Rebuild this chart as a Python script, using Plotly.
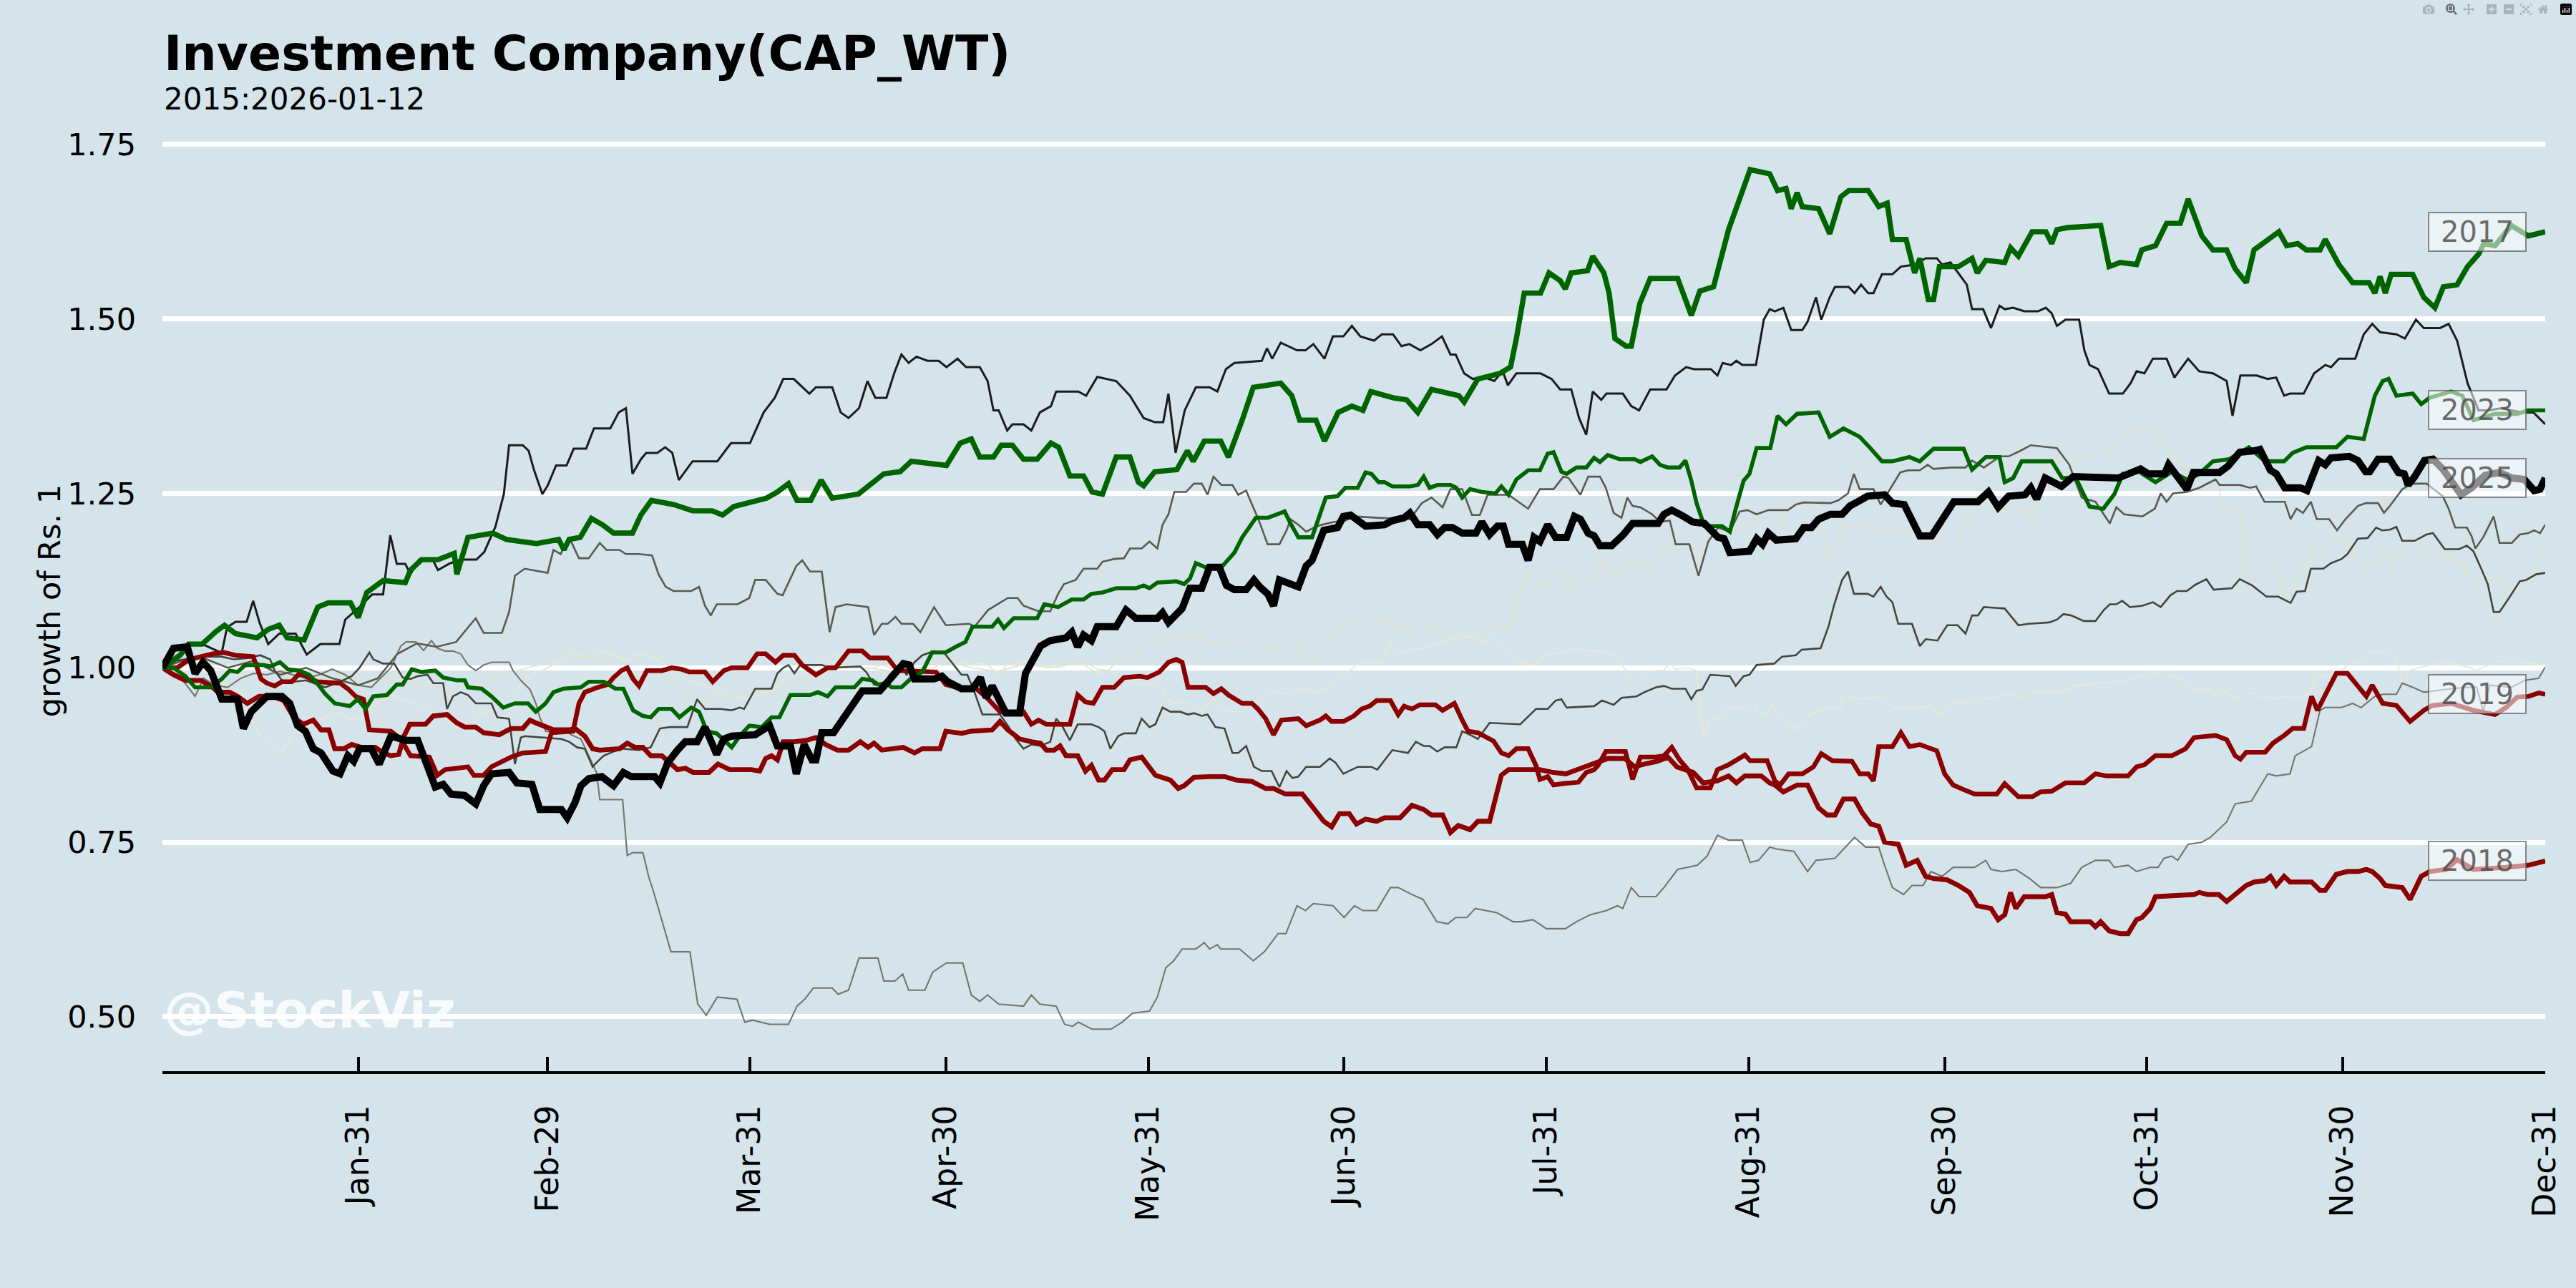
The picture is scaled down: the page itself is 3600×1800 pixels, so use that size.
import plotly.graph_objects as go
import pandas as pd

# ---------------- data: (day-of-year offset from Jan-01, growth of Rs. 1) ----------------
Y2015 = [(0,1.0),(2,0.99),(4,0.975),(6,0.97),(8,0.98),(10,0.975),(12,0.965),(13.3,0.93),(14.8,0.905),(16.5,0.89),(18,0.875),(19,0.89),(20.1,0.905),(21.5,0.91),(23,0.92),(25,0.93),(27,0.935),(29,0.925),(31,0.93),(33,0.95),(35,0.96),(37,0.955),(39,0.945),(41,0.94),(43,0.93),(45,0.915),(47,0.925),(49,0.935),(51,0.94),(53,0.96),(55,0.975),(57,0.99),(59,1.0),(61,1.01),(63,1.02),(65,1.015),(67,1.025),(69,1.02),(71,1.01),(73,1.02),(75,1.015),(77,1.005),(79,0.99),(81,0.98),(83,0.975),(85,0.965),(87,0.96),(89,0.955),(91,0.96),(93.9,0.970),(96.2,0.987),(98,0.991),(100.4,1.004),(102.2,1.016),(103.1,1.020),(104.3,1.004),(105.1,1.0),(108.1,0.998),(110.2,1.004),(111.4,1.0),(112.6,0.992),(115.2,0.992),(116.4,1.0),(118.2,1.0),(120,1.012),(121.5,1.014),(123.6,1.004),(124.7,1.006),(126.2,1.006),(128.3,0.988),(129.2,1.004),(130.7,1.006),(131.9,1.010),(134.2,1.004),(137.8,1.0),(139,1.008),(140.8,1.006),(142.6,0.996),(144.3,0.992),(145.2,0.996),(146.7,0.986),(148.8,0.980),(150.3,0.974),(151.8,0.980),(153.2,0.972),(154.1,0.953),(155.3,0.949),(157.1,0.949),(159.2,0.939),(161,0.957),(162.2,0.941),(163.3,0.937),(165.4,0.937),(166.9,0.949),(168.1,0.953),(169.9,0.965),(171.7,0.963),(173.5,0.969),(175.2,0.971),(176.4,0.965),(177.9,0.969),(179.4,0.976),(181.2,0.990),(183.1,1.006),(184.9,1.008),(186.6,1.006),(187.2,1.016),(188.1,1.037),(189.3,1.022),(191.4,1.026),(193.2,1.028),(194.9,1.033),(196.7,1.039),(198.5,1.043),(200.9,1.045),(201.8,1.035),(203.3,1.043),(205.1,1.028),(206.8,1.020),(208.6,1.006),(209.8,1.004),(212.2,1.018),(215.1,1.024),(216.9,1.028),(218.1,1.024),(220.8,1.024),(222.3,1.018),(223.5,1.006),(225.2,0.980),(227,0.990),(228.8,0.996),(230,0.996),(230.9,1.008),(231.8,0.998),(233.6,1.0),(235,0.996),(235.6,0.929),(236.2,0.902),(237.1,0.929),(238.3,0.925),(239.8,0.943),(241.3,0.943),(242.5,0.943),(243.7,0.951),(244.5,0.935),(245.7,0.933),(246.6,0.947),(248.4,0.929),(250.2,0.911),(251.4,0.923),(252.6,0.935),(254.6,0.941),(257.1,0.943),(257.3,0.961),(258.5,0.957),(260.9,0.955),(263.2,0.961),(265,0.943),(266.8,0.943),(269.2,0.943),(271,0.945),(272.2,0.933),(274,0.949),(277.8,0.953),(279,0.957),(280.3,0.955),(282.2,0.961),(284,0.961),(285.2,0.957),(287,0.965),(290.9,0.965),(292.7,0.974),(296.2,0.978),(300.2,0.980),(302,0.986),(304.5,0.990),(306.1,0.996),(307.6,0.990),(309.5,0.982),(310.8,0.970),(313.2,0.970),(314.5,0.961),(315.7,0.967),(317,0.959),(318.5,0.957),(320.1,0.965),(321.3,0.959),(323.2,0.955),(325.1,0.959),(327.2,0.957),(328.8,0.963),(330,0.987),(331.9,0.991),(333.8,0.996),(335,1.006),(336.3,1.008),(338.1,1.022),(341.2,1.022),(342.2,1.012),(343.1,0.978),(344.3,0.996),(345.6,1.0),(347.5,1.004),(349.3,1.008),(351.8,1.004),(353.7,1.0),(354.3,0.996),(358,1.010),(361.1,1.010),(363,1.006),(365,1.004)]

Y2016 = [(0,1.0),(4,1.01),(8,1.0),(12,0.99),(16,1.0),(20,0.995),(24,0.985),(28,0.99),(32,0.98),(36,0.985),(40,0.975),(44,0.97),(48,0.975),(52,0.99),(56,1.0),(60,1.01),(61.7,1.033),(62.9,1.016),(67,1.016),(68.8,1.008),(70,1.012),(71.2,0.996),(73,0.988),(75.4,0.990),(77.7,0.98),(80,0.965),(82.2,0.953),(84.9,0.959),(88.4,0.965),(92.4,0.961),(95,0.975),(98,0.98),(101,0.99),(104,1.0),(108,1.0),(112,0.995),(116,1.0),(120,1.01),(124,1.0),(128,0.995),(132,1.005),(136,1.0),(139.3,1.006),(141.4,1.008),(143.2,0.998),(144.9,0.996),(146.1,1.008),(147.3,1.014),(148.8,1.016),(149.7,1.031),(150.9,1.039),(153,1.040),(156,1.043),(158.6,1.045),(159.8,1.039),(163.3,1.035),(165.7,1.033),(166.6,1.028),(168.1,1.031),(170.2,1.030),(171.4,1.033),(172.8,1.028),(174,1.035),(175,1.013),(177,1.013),(178.8,1.039),(180,1.053),(181.8,1.067),(183.5,1.071),(185,1.075),(186.1,1.067),(188,1.065),(189,1.059),(191.1,1.059),(192,1.071),(193.2,1.067),(194.1,1.055),(195.3,1.055),(196.4,1.049),(199.1,1.047),(201,1.047),(201.8,1.051),(202.4,1.047),(203.3,1.061),(206.5,1.061),(207.4,1.078),(208.3,1.122),(209.2,1.136),(210.4,1.120),(212.2,1.120),(213.4,1.138),(214.6,1.134),(215.7,1.114),(216.9,1.126),(219.3,1.128),(220.5,1.154),(222.3,1.132),(223.5,1.142),(225.2,1.148),(228.2,1.144),(229.4,1.161),(231.2,1.175),(232.4,1.177),(234.2,1.177),(235.3,1.150),(236.5,1.185),(238.3,1.193),(240.1,1.191),(241.9,1.205),(244.2,1.207),(246,1.209),(247.8,1.209),(249,1.231),(250.2,1.235),(252,1.233),(253.2,1.225),(254.4,1.207),(255,1.156),(256.1,1.158),(257.6,1.201),(258.5,1.203),(260.9,1.205),(262.1,1.197),(264.4,1.199),(266.2,1.195),(268.6,1.201),(270.4,1.179),(271.6,1.183),(272.2,1.185),(275,1.19),(277.2,1.218),(278.1,1.238),(279,1.234),(281.5,1.224),(285.9,1.224),(286.5,1.214),(286.8,1.260),(288.4,1.286),(290.9,1.299),(297.1,1.303),(298.9,1.313),(300.5,1.323),(301.4,1.339),(305.2,1.339),(306.1,1.319),(308.3,1.295),(310.8,1.287),(314.5,1.280),(315.7,1.229),(317,1.225),(318.5,1.221),(318.8,1.130),(320.1,1.126),(322,1.140),(323.8,1.140),(325.4,1.100),(326.6,1.124),(327.9,1.138),(329.1,1.165),(330.7,1.169),(332.2,1.181),(334.1,1.189),(335.6,1.167),(337.5,1.148),(339.4,1.152),(340.6,1.165),(341.2,1.141),(342.5,1.169),(344.3,1.185),(345.6,1.179),(346.8,1.161),(350,1.157),(352.4,1.151),(354.3,1.122),(356.2,1.128),(357.4,1.128),(359.3,1.110),(360.8,1.110),(363,1.134),(364,1.159),(365,1.161)]

Y2017 = [(0,1.000),(2.8,1.019),(4.0,1.034),(6.1,1.034),(8.2,1.052),(9.5,1.061),(11.2,1.049),(14.5,1.043),(16.2,1.055),(17.9,1.061),(19.1,1.043),(21.7,1.040),(23.8,1.087),(25.4,1.093),(28.8,1.093),(30.0,1.072),(31.3,1.108),(33.8,1.125),(37.2,1.122),(38.0,1.140),(39.7,1.155),(42.2,1.155),(44.7,1.164),(45.1,1.134),(46.8,1.187),(50.6,1.193),(52.7,1.184),(57.3,1.178),(60.7,1.184),(61.5,1.169),(62.3,1.184),(64.0,1.187),(65.7,1.214),(67.4,1.205),(69.1,1.193),(72.0,1.193),(73.3,1.219),(74.9,1.240),(78.3,1.234),(81.2,1.225),(84.2,1.225),(85.8,1.219),(87.5,1.231),(92.5,1.243),(94.2,1.252),(95.9,1.264),(97.2,1.240),(99.3,1.240),(100.9,1.269),(102.6,1.243),(106.6,1.249),(110.5,1.278),(113.0,1.281),(114.7,1.296),(120.1,1.290),(122.2,1.322),(123.9,1.328),(125.2,1.302),(127.3,1.302),(128.5,1.319),(130.2,1.319),(131.9,1.299),(134.0,1.299),(136.1,1.322),(137.3,1.316),(139.0,1.275),(141.1,1.275),(142.4,1.252),(144.0,1.249),(146.1,1.302),(148.2,1.302),(149.5,1.266),(150.3,1.261),(152.0,1.281),(155.4,1.284),(157.0,1.311),(157.9,1.296),(159.6,1.325),(162.1,1.325),(163.3,1.302),(165.4,1.355),(167.1,1.402),(171.3,1.408),(173.0,1.390),(174.2,1.355),(176.7,1.355),(178.0,1.325),(180.1,1.366),(182.2,1.375),(183.9,1.369),(185.1,1.396),(188.5,1.387),(190.6,1.384),(192.3,1.366),(194.4,1.399),(198.6,1.390),(199.4,1.381),(201.5,1.414),(204.9,1.422),(206.5,1.431),(207.4,1.472),(208.6,1.537),(211.1,1.537),(212.4,1.566),(214.1,1.555),(214.9,1.543),(215.8,1.566),(218.3,1.569),(219.1,1.590),(220.8,1.566),(221.6,1.537),(222.5,1.472),(224.2,1.461),(225.0,1.461),(226.3,1.522),(227.9,1.558),(232.1,1.558),(234.2,1.505),(235.5,1.540),(237.6,1.546),(239.9,1.628),(242.0,1.684),(243.2,1.714),(246.2,1.708),(247.4,1.684),(248.7,1.687),(249.5,1.658),(250.4,1.681),(251.2,1.661),(253.7,1.658),(255.4,1.622),(257.1,1.675),(258.3,1.684),(261.3,1.684),(262.9,1.661),(264.2,1.666),(265.0,1.614),(267.1,1.614),(268.4,1.566),(269.2,1.587),(270.5,1.528),(271.3,1.528),(272.2,1.575),(275.1,1.575),(277.2,1.587),(278.0,1.566),(279.3,1.584),(282.2,1.581),(283.1,1.602),(284.3,1.590),(286.4,1.625),(288.5,1.625),(289.4,1.608),(290.2,1.628),(291.9,1.631),(296.9,1.634),(298.2,1.575),(299.9,1.581),(302.4,1.578),(303.2,1.599),(305.3,1.605),(307.0,1.637),(309.1,1.637),(310.3,1.672),(312.4,1.619),(314.1,1.599),(316.2,1.599),(317.5,1.572),(319.2,1.552),(320.4,1.599),(322.1,1.611),(324.2,1.625),(325.4,1.605),(327.1,1.608),(328.4,1.599),(330.5,1.599),(331.3,1.614),(333.4,1.578),(335.5,1.552),(338.0,1.552),(338.9,1.537),(339.7,1.561),(340.5,1.537),(341.4,1.564),(344.7,1.564),(346.4,1.531),(348.1,1.516),(349.4,1.546),(351.5,1.549),(353.1,1.575),(354.8,1.593),(355.6,1.608),(357.3,1.605),(359.8,1.634),(362.4,1.619),(365,1.625)]

Y2018 = [(0,1.0),(1.7,0.990),(3.5,0.982),(5.9,0.982),(7.7,0.972),(8.5,0.965),(10.3,0.965),(11.5,0.959),(13.0,0.949),(14.8,0.959),(16.9,0.959),(18.6,0.953),(20.1,0.929),(21.6,0.919),(23.1,0.925),(24.3,0.911),(25.5,0.911),(26.4,0.884),(27.8,0.884),(29.0,0.890),(30.5,0.886),(32.6,0.886),(33.8,0.878),(35.0,0.874),(36.2,0.876),(37.0,0.902),(37.9,0.919),(40.3,0.919),(41.5,0.931),(43.6,0.933),(45.1,0.921),(46.3,0.915),(48.0,0.915),(49.2,0.907),(51.6,0.904),(53.4,0.913),(55.2,0.913),(56.3,0.925),(57.2,0.921),(58.7,0.915),(59.9,0.911),(62.3,0.911),(63.2,0.913),(64.7,0.902),(65.9,0.884),(67.0,0.882),(70.0,0.884),(71.2,0.892),(72.4,0.886),(73.6,0.886),(74.8,0.874),(76.5,0.874),(78.0,0.860),(78.9,0.854),(80.1,0.856),(81.3,0.850),(83.7,0.850),(85.1,0.862),(86.9,0.854),(90.2,0.854),(91.5,0.852),(92.4,0.870),(93.3,0.874),(94.2,0.868),(95.1,0.894),(96.8,0.894),(98.6,0.896),(100.1,0.900),(101.6,0.890),(103.4,0.882),(105.1,0.882),(106.9,0.894),(108.1,0.886),(109.0,0.892),(110.2,0.882),(112.6,0.884),(113.5,0.886),(115.2,0.878),(116.4,0.884),(119.1,0.884),(120.0,0.909),(122.4,0.906),(123.9,0.909),(127.1,0.911),(128.3,0.923),(129.5,0.911),(131.3,0.898),(133.1,0.894),(134.5,0.892),(135.4,0.882),(136.6,0.882),(137.5,0.888),(138.4,0.874),(140.2,0.874),(141.4,0.852),(142.3,0.860),(143.4,0.839),(144.3,0.839),(145.5,0.854),(147.3,0.854),(148.2,0.868),(150.0,0.872),(151.2,0.858),(152.1,0.846),(154.4,0.839),(155.6,0.827),(156.5,0.831),(158.0,0.843),(160.4,0.844),(162.7,0.844),(164.5,0.839),(166.9,0.837),(169.0,0.827),(170.2,0.827),(172.0,0.819),(174.6,0.819),(175.8,0.805),(177.9,0.780),(179.1,0.772),(180.3,0.791),(181.8,0.791),(182.9,0.776),(184.3,0.783),(186.0,0.780),(187.2,0.785),(189.6,0.785),(191.4,0.803),(193.2,0.797),(194.4,0.789),(196.1,0.789),(197.3,0.764),(198.5,0.774),(200.3,0.768),(201.5,0.780),(203.3,0.780),(204.2,0.815),(205.1,0.846),(206.2,0.854),(211.0,0.854),(213.0,0.850),(215.0,0.848),(217.0,0.855),(219.0,0.862),(221.4,0.870),(224.0,0.870),(225.5,0.858),(227.0,0.862),(229.0,0.866),(230.6,0.872),(232.0,0.858),(234.5,0.850),(236.0,0.835),(238.2,0.838),(239.9,0.845),(241.1,0.835),(242.4,0.845),(244.9,0.845),(246.2,0.835),(247.0,0.832),(248.3,0.822),(250.4,0.832),(252.0,0.832),(253.7,0.799),(255.0,0.789),(256.2,0.789),(257.5,0.812),(259.2,0.812),(260.4,0.792),(261.7,0.776),(262.9,0.773),(263.8,0.750),(265.9,0.747),(267.1,0.717),(268.8,0.724),(270.1,0.701),(271.3,0.698),(273.4,0.696),(275.1,0.688),(276.8,0.678),(278.0,0.659),(280.1,0.655),(281.2,0.639),(282.2,0.646),(283.1,0.678),(283.9,0.655),(285.2,0.672),(288.5,0.672),(289.4,0.675),(290.2,0.649),(291.5,0.647),(292.3,0.636),(295.3,0.636),(296.1,0.629),(296.9,0.636),(298.2,0.623),(299.9,0.619),(301.1,0.619),(302.4,0.639),(303.2,0.642),(304.5,0.655),(305.3,0.672),(307.8,0.673),(311.2,0.675),(312.0,0.678),(313.3,0.675),(315.0,0.675),(316.2,0.665),(319.2,0.688),(320.4,0.693),(322.1,0.695),(322.9,0.701),(323.8,0.688),(325.0,0.701),(325.9,0.693),(329.2,0.693),(330.5,0.681),(331.3,0.681),(333.0,0.704),(334.7,0.708),(336.4,0.708),(337.6,0.711),(338.5,0.708),(339.7,0.698),(340.5,0.688),(343.1,0.685),(344.3,0.668),(346.0,0.701),(347.3,0.708),(349.8,0.711),(351.5,0.725),(354.0,0.711),(359.0,0.714),(362.4,0.717),(365,0.723)]

Y2019 = [(0,1.0),(2.3,1.0),(4.1,1.012),(5.9,1.016),(7.7,1.020),(9.4,1.022),(11.2,1.018),(13.9,1.016),(15.1,0.984),(16.0,0.978),(17.2,0.974),(18.3,0.980),(19.8,0.980),(21.0,0.992),(22.5,0.986),(23.7,0.980),(27.2,0.978),(28.4,0.970),(29.6,0.959),(30.8,0.955),(31.7,0.911),(35.0,0.909),(36.5,0.898),(38.0,0.874),(40.9,0.872),(42.1,0.846),(43.3,0.854),(46.8,0.858),(47.7,0.846),(49.2,0.846),(50.4,0.858),(51.6,0.864),(53.4,0.872),(55.2,0.878),(57.5,0.880),(58.7,0.880),(59.6,0.907),(62.9,0.909),(63.8,0.949),(64.7,0.965),(66.7,0.972),(68.2,0.976),(69.1,0.986),(70.3,0.996),(71.2,1.0),(72.1,0.984),(73.0,0.974),(74.2,0.996),(76.5,0.996),(78.0,1.0),(79.5,0.998),(80.7,0.994),(83.1,0.994),(84.3,0.980),(86.0,0.996),(87.2,1.0),(89.6,1.0),(91.1,1.020),(92.4,1.020),(93.9,1.008),(95.1,1.018),(96.8,1.018),(98.0,1.004),(100.1,0.990),(101.9,1.0),(103.1,1.0),(105.1,1.024),(107.2,1.024),(108.4,1.014),(111.1,1.014),(112.6,0.996),(118.5,0.994),(120.0,0.976),(122.4,0.970),(124.7,0.970),(126.5,0.955),(128.3,0.937),(129.8,0.935),(131.9,0.937),(133.1,0.919),(134.2,0.925),(135.4,0.919),(139.0,0.919),(140.2,0.961),(141.4,0.951),(142.6,0.949),(144.0,0.972),(145.8,0.972),(147.3,0.986),(149.7,0.988),(150.9,0.986),(152.7,0.994),(154.1,1.008),(155.3,1.012),(156.2,1.008),(157.1,0.972),(159.8,0.972),(161.0,0.963),(162.2,0.970),(163.3,0.961),(165.4,0.949),(166.9,0.949),(167.8,0.941),(169.0,0.927),(170.2,0.904),(171.4,0.925),(174.0,0.927),(175.2,0.917),(177.3,0.925),(178.2,0.931),(179.1,0.923),(180.9,0.923),(182.5,0.931),(183.7,0.941),(184.9,0.945),(186.0,0.953),(188.1,0.953),(189.3,0.933),(190.2,0.945),(191.4,0.941),(192.6,0.947),(195.0,0.947),(196.1,0.939),(197.9,0.949),(199.1,0.925),(200.0,0.909),(201.5,0.907),(202.7,0.901),(203.9,0.895),(205.1,0.878),(206.2,0.874),(207.4,0.884),(209.2,0.884),(210.4,0.860),(211.0,0.840),(212.2,0.844),(213.1,0.832),(214.6,0.834),(216.9,0.836),(218.1,0.850),(219.3,0.854),(219.9,0.860),(221.1,0.880),(224.1,0.880),(225.2,0.840),(226.4,0.872),(228.8,0.872),(230.0,0.874),(231.2,0.886),(232.4,0.868),(233.6,0.855),(235.0,0.828),(237.1,0.828),(238.2,0.854),(239.9,0.861),(242.4,0.875),(243.2,0.867),(245.8,0.867),(247.0,0.838),(247.8,0.832),(249.1,0.848),(251.2,0.848),(252.9,0.858),(254.1,0.877),(255.8,0.867),(258.8,0.866),(260.0,0.848),(261.3,0.848),(262.1,0.838),(262.9,0.887),(265.0,0.887),(266.3,0.907),(267.6,0.887),(269.2,0.890),(271.8,0.881),(273.0,0.848),(274.3,0.832),(276.0,0.825),(277.6,0.819),(281.0,0.819),(282.2,0.834),(284.3,0.815),(286.4,0.815),(287.7,0.822),(289.4,0.823),(291.5,0.835),(294.4,0.835),(296.1,0.848),(297.8,0.845),(301.1,0.845),(302.4,0.858),(303.6,0.861),(305.3,0.874),(307.8,0.874),(309.9,0.884),(311.2,0.900),(314.5,0.903),(316.2,0.897),(317.5,0.874),(318.3,0.869),(319.2,0.879),(322.1,0.879),(323.3,0.892),(325.0,0.903),(326.3,0.913),(328.0,0.913),(329.2,0.959),(330.1,0.939),(333.0,0.992),(334.7,0.992),(337.6,0.959),(338.5,0.975),(340.1,0.949),(342.2,0.946),(344.3,0.923),(346.4,0.939),(347.7,0.946),(350.6,0.949),(354.0,0.939),(357.3,0.933),(359.0,0.943),(360.7,0.958),(362.4,0.959),(364.0,0.964),(365,0.962)]

Y2020 = [(0,1.0),(2.5,0.99),(5,0.959),(6.3,0.985),(8,0.975),(10,0.972),(12,0.985),(14,0.992),(16,0.99),(18,0.995),(20,0.99),(22,0.985),(24,0.99),(26,0.998),(28,0.99),(30,0.975),(32,0.972),(34,0.99),(35,1.0),(36.5,1.031),(37.3,1.037),(38.8,1.037),(40,1.025),(41.2,1.039),(42.1,1.028),(43.3,1.024),(44.5,1.024),(45.7,1.020),(46.8,1.004),(48,0.996),(49.2,1.004),(50.4,1.008),(53.1,1.008),(53.7,0.996),(54.9,0.982),(56.3,0.969),(57.2,0.949),(57.8,0.929),(58.7,0.909),(60.5,0.907),(61.7,0.911),(62.6,0.904),(64.1,0.898),(65.3,0.874),(66.5,0.85),(67.0,0.811),(70.5,0.811),(71.2,0.731),(72,0.735),(73.6,0.735),(74.5,0.70),(75.2,0.68),(77.9,0.593),(80.8,0.593),(82,0.518),(83.3,0.502),(85,0.528),(88,0.525),(89.2,0.492),(90.4,0.495),(93,0.489),(95.9,0.489),(97.2,0.515),(98.4,0.525),(99.7,0.541),(102.6,0.541),(103.5,0.532),(105.1,0.538),(106.7,0.584),(109.6,0.584),(110.5,0.551),(112.2,0.551),(113.4,0.561),(114.3,0.538),(116.8,0.538),(118.0,0.564),(120.1,0.577),(122.6,0.577),(123.9,0.531),(125.2,0.522),(126.4,0.531),(128.1,0.518),(131.9,0.515),(133.1,0.531),(134.4,0.518),(136.9,0.515),(138.2,0.489),(139.4,0.486),(140.3,0.492),(142.4,0.482),(145.3,0.482),(147.0,0.492),(148.6,0.505),(151.2,0.508),(152.4,0.528),(153.7,0.570),(154.9,0.580),(156.2,0.597),(158.3,0.597),(159.6,0.606),(160.4,0.597),(161.6,0.603),(162.1,0.597),(165.0,0.597),(167.1,0.580),(168.8,0.593),(170.9,0.619),(172.1,0.619),(173.8,0.659),(175.1,0.652),(176.3,0.662),(179.3,0.659),(181.0,0.642),(182.6,0.659),(183.9,0.652),(186.0,0.652),(188.1,0.685),(189.3,0.685),(191.4,0.675),(193.1,0.668),(195.2,0.636),(196.9,0.633),(198.1,0.642),(199.8,0.642),(201.1,0.655),(204.4,0.649),(206.9,0.636),(208.2,0.636),(209.9,0.639),(212.0,0.626),(214.9,0.626),(216.6,0.636),(218.7,0.646),(221.2,0.652),(222.9,0.659),(223.7,0.655),(225.0,0.685),(226.2,0.672),(228.8,0.672),(230.0,0.685),(232.1,0.711),(235.1,0.717),(236.6,0.730),(238.2,0.760),(239.9,0.753),(242.0,0.753),(243.2,0.721),(244.5,0.724),(246.2,0.743),(247.4,0.740),(249.9,0.737),(252.0,0.708),(253.3,0.724),(256.2,0.727),(259.2,0.757),(260.9,0.743),(262.9,0.743),(263.8,0.717),(265.0,0.685),(266.7,0.675),(268.0,0.688),(269.7,0.688),(270.9,0.708),(272.6,0.701),(274.3,0.714),(277.6,0.714),(279.3,0.724),(280.1,0.711),(281.8,0.708),(283.9,0.711),(286.0,0.698),(287.7,0.685),(290.2,0.685),(292.3,0.691),(294.0,0.714),(296.1,0.724),(298.2,0.724),(299.0,0.714),(301.1,0.717),(302.4,0.708),(304.5,0.714),(305.7,0.714),(306.6,0.727),(307.8,0.730),(308.7,0.724),(310.3,0.747),(312.4,0.750),(313.7,0.757),(316.2,0.779),(317.5,0.805),(320.0,0.809),(322.5,0.848),(323.8,0.845),(325.9,0.848),(326.7,0.874),(329.2,0.887),(330.5,0.939),(331.3,0.943),(333.8,0.943),(335.5,0.949),(336.8,0.943),(338.9,0.959),(340.1,0.962),(342.2,0.962),(343.1,0.978),(344.7,0.972),(346.4,0.965),(349.8,0.969),(352.7,0.972),(354.5,0.972),(355.5,0.938),(356.5,0.975),(359.8,0.972),(361.9,0.982),(364.0,0.985),(365,1.001)]

Y2021 = [(0,1.0),(3,1.01),(6,1.015),(10,1.0),(14,1.01),(18,0.99),(22,1.0),(26,0.985),(30,0.975),(33,0.985),(36,1.02),(39,1.035),(42,1.03),(45,1.037),(47,1.06),(48,1.071),(49.2,1.05),(52,1.05),(53.1,1.08),(54,1.132),(55.5,1.142),(59,1.136),(59.9,1.169),(61,1.163),(62.3,1.187),(63.8,1.157),(65.3,1.157),(67,1.179),(68,1.169),(70,1.169),(71,1.163),(73,1.163),(75,1.161),(76,1.134),(77.1,1.116),(78.3,1.11),(81,1.11),(82.2,1.116),(83.1,1.089),(84,1.075),(84.9,1.091),(88.1,1.091),(89.9,1.1),(90.8,1.126),(92.4,1.126),(94.2,1.106),(95.0,1.104),(97.1,1.146),(98,1.154),(99.2,1.138),(101,1.138),(102.2,1.051),(103.1,1.087),(104.8,1.091),(108.1,1.087),(109,1.047),(110.2,1.063),(111.1,1.063),(112.3,1.073),(113.2,1.063),(115,1.063),(116.1,1.051),(118.2,1.087),(120,1.061),(123.6,1.063),(124.4,1.059),(126.5,1.083),(129.5,1.10),(131,1.10),(131.9,1.089),(134.2,1.081),(136,1.081),(137.2,1.106),(138.1,1.120),(139.9,1.126),(141.1,1.142),(143.2,1.142),(144,1.152),(145.8,1.156),(147.3,1.157),(148.2,1.171),(150,1.171),(151.2,1.181),(152.4,1.171),(153.2,1.205),(154.1,1.220),(155.0,1.252),(156.8,1.252),(158,1.264),(159.2,1.264),(160.1,1.248),(161,1.274),(162.2,1.262),(163.9,1.262),(164.8,1.248),(166,1.254),(166.9,1.234),(167.8,1.215),(169.3,1.177),(171.1,1.177),(172.2,1.197),(172.8,1.213),(174,1.205),(175.2,1.195),(176.4,1.201),(177.6,1.205),(179.4,1.209),(181.2,1.211),(182.5,1.217),(186.1,1.215),(191.1,1.213),(192.9,1.236),(194.4,1.244),(196.1,1.230),(197.3,1.256),(199.1,1.256),(200.6,1.219),(201.8,1.219),(203.0,1.248),(206.2,1.248),(209.2,1.228),(211.0,1.256),(213.1,1.256),(214.6,1.274),(215.4,1.272),(217.2,1.248),(218.4,1.274),(220.2,1.274),(221.1,1.258),(222.3,1.222),(223.5,1.215),(224.4,1.244),(225.2,1.232),(226.4,1.230),(228.2,1.220),(229.4,1.209),(230.9,1.211),(231.8,1.177),(233.9,1.177),(235.3,1.132),(236.8,1.181),(238.3,1.201),(240.1,1.195),(241.6,1.224),(242.8,1.226),(244.2,1.220),(246.0,1.226),(249.0,1.226),(250.2,1.234),(251.4,1.237),(255.5,1.236),(256.7,1.240),(258.2,1.250),(259.1,1.278),(260.0,1.256),(262.1,1.256),(263.2,1.234),(264.4,1.252),(266.2,1.280),(267.4,1.283),(269.2,1.283),(270.4,1.291),(271.3,1.285),(273.9,1.287),(276.2,1.287),(277.2,1.297),(279.0,1.287),(281.5,1.303),(282.8,1.303),(284.6,1.311),(286.2,1.319),(290.2,1.315),(291.2,1.303),(292.1,1.291),(293.0,1.268),(294.0,1.244),(296.1,1.238),(296.8,1.228),(298.3,1.207),(299.3,1.230),(300.5,1.220),(303.3,1.217),(305.2,1.228),(306.1,1.250),(307.0,1.238),(308.0,1.250),(310.1,1.252),(312.0,1.258),(314.5,1.270),(315.1,1.262),(318.2,1.262),(319.8,1.258),(320.7,1.260),(322.0,1.238),(325.1,1.238),(326.0,1.213),(326.9,1.228),(327.9,1.222),(329.1,1.238),(330.0,1.213),(331.9,1.213),(333.1,1.197),(334.4,1.213),(336.3,1.232),(337.5,1.236),(339.4,1.236),(340.3,1.222),(341.2,1.232),(343.1,1.256),(344.6,1.264),(346.8,1.264),(349.3,1.246),(350.2,1.228),(351.2,1.201),(353.0,1.201),(353.7,1.189),(354.3,1.171),(355.5,1.187),(357.1,1.217),(358.0,1.179),(359.9,1.179),(361.1,1.191),(362.4,1.193),(363.3,1.197),(364.2,1.193),(365,1.205)]

Y2022 = [(0,1.0),(2,1.01),(6,1.016),(9,1.016),(11,1.012),(13,1.014),(15,1.018),(16.5,1.012),(17.2,0.996),(18.3,0.982),(20.1,0.98),(22,0.982),(24.9,0.972),(26,0.976),(27.2,0.98),(29,0.988),(30.2,1.0),(31.7,1.022),(32.3,1.012),(33.8,1.006),(35.5,1.006),(36.8,0.986),(38,0.984),(39.1,0.988),(40.6,0.990),(41.5,0.978),(43,0.978),(43.6,0.941),(44.5,0.959),(45.7,0.965),(46.8,0.961),(48,0.949),(50.4,0.949),(51.3,0.929),(53.1,0.927),(54,0.862),(54.9,0.9),(55.5,0.902),(58,0.9),(61.1,0.898),(62.3,0.894),(63.5,0.886),(64.7,0.884),(65.9,0.858),(66.7,0.866),(67.6,0.874),(69.1,0.880),(70.6,0.884),(73,0.882),(74.8,0.886),(76.2,0.913),(77.7,0.915),(80.4,0.915),(81.9,0.955),(83.1,0.941),(85.5,0.941),(87.2,0.939),(88.4,0.943),(89.1,0.941),(90.8,0.970),(93.3,0.970),(94.2,0.992),(95.1,1.0),(95.9,1.004),(96.8,0.992),(97.7,1.004),(101,1.004),(102.2,1.0),(106.9,1.002),(107.8,0.994),(109,0.976),(110.5,0.974),(111.4,0.990),(112.9,1.004),(114,0.990),(115.2,1.008),(116.4,1.018),(118.2,1.024),(119.7,1.022),(121.2,1.004),(122.4,0.990),(123.3,0.990),(124.4,0.965),(125.6,0.933),(128.3,0.933),(129.5,0.917),(130.7,0.898),(131.9,0.884),(133.1,0.890),(134.5,0.888),(136,0.894),(136.9,0.927),(137.8,0.917),(139,0.896),(140.2,0.919),(142.3,0.919),(143.4,0.915),(144.3,0.909),(145.2,0.884),(146.4,0.902),(147.3,0.906),(149.1,0.906),(150,0.927),(151.2,0.915),(152.1,0.919),(153.2,0.943),(154.4,0.937),(155.9,0.937),(157.1,0.933),(158,0.935),(159.2,0.931),(160.1,0.933),(161.3,0.915),(162.7,0.913),(163.9,0.878),(164.8,0.878),(166,0.888),(167.2,0.858),(168.4,0.852),(169.9,0.852),(171.1,0.829),(172.2,0.852),(173.1,0.842),(174,0.844),(175.2,0.858),(177.3,0.858),(178.8,0.870),(179.7,0.864),(180.9,0.848),(183.1,0.858),(185.2,0.858),(186.1,0.854),(187.2,0.868),(188.4,0.882),(190.8,0.878),(192.0,0.894),(193.2,0.888),(194.1,0.888),(195.3,0.880),(196.4,0.886),(198.2,0.886),(199.1,0.909),(200.3,0.904),(201.5,0.898),(203.3,0.921),(208.0,0.919),(210.4,0.941),(212.2,0.941),(213.4,0.953),(214.3,0.955),(215.1,0.943),(219.3,0.945),(220.5,0.953),(222.3,0.947),(223.5,0.957),(225.8,0.959),(227.0,0.965),(228.8,0.972),(230.0,0.974),(231.2,0.970),(233.3,0.970),(234.2,0.955),(235.0,0.967),(235.9,0.969),(237.1,0.990),(240.1,0.988),(241.0,0.974),(242.2,0.988),(243.1,0.990),(244.2,1.004),(246.9,1.006),(248.1,1.016),(250.2,1.018),(251.1,1.026),(254.0,1.028),(255.2,1.059),(256.1,1.091),(257.3,1.126),(258.2,1.138),(259.1,1.106),(261.2,1.106),(262.1,1.102),(263.2,1.116),(264.1,1.102),(265.0,1.094),(265.9,1.063),(268.0,1.063),(269.2,1.031),(270.1,1.041),(271.9,1.039),(273.4,1.061),(275.0,1.061),(276.2,1.049),(277.2,1.075),(278.1,1.075),(279.0,1.087),(282.2,1.085),(283.1,1.075),(284.3,1.061),(285.9,1.063),(289.0,1.065),(290.2,1.069),(291.2,1.077),(292.4,1.075),(294.3,1.067),(296.1,1.067),(297.4,1.083),(298.3,1.091),(299.3,1.091),(300.2,1.096),(301.4,1.087),(303.3,1.089),(304.9,1.094),(306.1,1.087),(307.6,1.104),(308.6,1.110),(310.1,1.110),(311.4,1.119),(313.1,1.127),(314.2,1.112),(317.0,1.114),(318.2,1.127),(320.1,1.118),(322.3,1.102),(324.1,1.102),(326.0,1.093),(326.9,1.109),(328.2,1.110),(329.1,1.142),(331.0,1.142),(332.2,1.150),(333.8,1.156),(334.7,1.163),(336.3,1.185),(337.8,1.186),(339.1,1.201),(340.0,1.197),(341.2,1.198),(342.2,1.202),(343.1,1.182),(345.0,1.182),(346.8,1.191),(347.8,1.193),(349.6,1.170),(351.8,1.170),(353.0,1.175),(354.0,1.167),(355.2,1.142),(356.2,1.120),(357.1,1.080),(358.0,1.080),(359.3,1.098),(361.1,1.124),(362.1,1.126),(363.6,1.134),(365,1.136)]

Y2023 = [(0,1.0),(1.7,1.0),(3.5,0.988),(5.0,0.972),(7.4,0.972),(9.1,0.984),(10.3,0.996),(11.5,0.994),(12.7,1.004),(15.4,1.004),(16.6,1.002),(18.0,1.008),(19.2,0.998),(21.0,0.996),(22.5,0.990),(23.7,0.978),(24.9,0.963),(26.4,0.949),(28.7,0.945),(29.9,0.955),(31.1,0.941),(32.3,0.959),(34.4,0.961),(35.9,0.976),(36.8,0.976),(38.2,0.998),(39.7,0.994),(41.8,0.996),(43.0,0.986),(45.1,0.982),(46.3,0.982),(46.8,0.972),(48.9,0.970),(50.4,0.959),(52.2,0.943),(54.0,0.949),(56.0,0.949),(57.2,0.937),(58.7,0.949),(59.9,0.965),(61.4,0.970),(64.1,0.972),(65.3,0.980),(67.6,0.980),(69.4,0.970),(70.6,0.970),(72.1,0.939),(73.6,0.931),(74.8,0.929),(76.0,0.941),(78.0,0.941),(79.2,0.929),(81.0,0.943),(82.2,0.937),(83.4,0.909),(84.9,0.906),(87.2,0.886),(88.4,0.902),(89.9,0.917),(91.8,0.915),(93.3,0.929),(94.5,0.929),(96.2,0.961),(99.2,0.961),(100.4,0.965),(101.9,0.959),(103.1,0.972),(106.0,0.972),(107.2,0.984),(108.7,0.982),(109.6,0.976),(110.8,0.978),(111.7,0.972),(113.2,0.972),(114.6,0.984),(116.4,0.994),(117.9,1.022),(120.0,1.022),(121.5,1.030),(123.0,1.037),(124.1,1.059),(127.1,1.059),(128.0,1.069),(128.9,1.057),(130.4,1.071),(134.0,1.071),(135.1,1.091),(137.2,1.087),(139.3,1.098),(141.1,1.098),(142.3,1.106),(144.0,1.108),(146.1,1.114),(149.1,1.114),(150.3,1.118),(151.2,1.114),(152.4,1.122),(155.3,1.124),(156.5,1.120),(157.4,1.128),(158.3,1.150),(159.8,1.144),(162.2,1.144),(164.2,1.165),(165.4,1.187),(167.5,1.215),(169.3,1.215),(171.9,1.224),(172.8,1.207),(174.0,1.187),(176.1,1.187),(177.0,1.213),(178.2,1.244),(180.0,1.246),(181.2,1.258),(183.1,1.258),(184.3,1.280),(185.2,1.278),(186.3,1.266),(187.2,1.266),(188.4,1.260),(191.1,1.260),(192.3,1.262),(193.2,1.274),(194.1,1.258),(195.3,1.262),(197.3,1.262),(198.2,1.258),(199.1,1.244),(200.3,1.256),(202.1,1.252),(204.2,1.250),(205.1,1.260),(206.2,1.248),(207.4,1.270),(209.2,1.283),(211.0,1.283),(212.2,1.307),(213.1,1.309),(214.3,1.281),(215.1,1.278),(216.6,1.287),(218.1,1.287),(219.3,1.301),(220.2,1.295),(221.4,1.305),(223.2,1.299),(225.5,1.299),(226.4,1.295),(228.2,1.303),(229.4,1.291),(230.6,1.287),(232.4,1.287),(233.3,1.297),(234.2,1.268),(235.0,1.236),(236.2,1.203),(238.9,1.203),(240.1,1.195),(241.0,1.228),(242.2,1.268),(243.1,1.278),(244.2,1.315),(246.3,1.315),(247.4,1.361),(248.7,1.349),(250.4,1.364),(253.7,1.366),(255.4,1.331),(257.5,1.343),(260.0,1.331),(261.7,1.314),(263.4,1.296),(265.0,1.296),(267.6,1.302),(269.2,1.296),(271.3,1.314),(275.9,1.314),(277.2,1.284),(279.3,1.302),(281.4,1.302),(282.2,1.266),(283.5,1.272),(284.8,1.296),(289.4,1.296),(291.0,1.272),(293.1,1.272),(295.2,1.231),(297.3,1.228),(299.0,1.249),(300.3,1.278),(302.8,1.281),(305.3,1.266),(307.8,1.281),(310.3,1.269),(312.0,1.278),(314.1,1.296),(316.6,1.299),(319.6,1.316),(322.1,1.296),(325.0,1.296),(326.3,1.308),(328.4,1.316),(333.0,1.316),(334.7,1.331),(337.2,1.328),(338.9,1.390),(340.1,1.411),(341.0,1.414),(342.2,1.390),(344.7,1.393),(346.0,1.378),(347.3,1.387),(350.6,1.396),(352.3,1.390),(354.0,1.355),(357.3,1.364),(360.7,1.364),(362.4,1.369),(365,1.369)]

Y2024 = [(0,1.0),(2.8,1.016),(4.0,1.034),(6.1,1.034),(8.2,1.025),(9.1,1.022),(9.9,1.058),(11.2,1.066),(12.9,1.066),(13.9,1.096),(14.9,1.064),(16.2,1.034),(17.9,1.049),(20.4,1.049),(22.1,1.019),(24.2,1.034),(27.1,1.034),(28.0,1.069),(30.5,1.090),(32.1,1.105),(33.8,1.105),(34.9,1.190),(35.9,1.149),(37.2,1.149),(38.0,1.134),(39.3,1.155),(41.4,1.155),(42.2,1.140),(43.9,1.149),(45.6,1.155),(48.1,1.155),(49.3,1.166),(51.0,1.202),(52.3,1.249),(53.1,1.319),(55.2,1.319),(56.1,1.311),(56.9,1.284),(58.2,1.249),(59.0,1.261),(60.3,1.290),(61.9,1.290),(63.0,1.314),(64.9,1.314),(66.1,1.343),(68.6,1.343),(69.9,1.366),(71.0,1.372),(72.0,1.278),(73.3,1.299),(74.1,1.308),(75.8,1.308),(77.0,1.316),(78.1,1.308),(79.1,1.269),(81.2,1.296),(85.0,1.296),(87.1,1.322),(90.0,1.322),(92.1,1.366),(93.8,1.387),(95.1,1.414),(96.7,1.414),(99.1,1.393),(100.1,1.402),(102.6,1.402),(103.9,1.366),(105.1,1.358),(106.7,1.372),(108.0,1.411),(109.2,1.387),(110.9,1.387),(112.2,1.425),(113.2,1.449),(114.3,1.437),(115.5,1.446),(117.2,1.440),(118.9,1.440),(120.1,1.431),(121.8,1.443),(123.1,1.431),(125.2,1.431),(126.4,1.411),(127.3,1.369),(128.1,1.369),(129.4,1.340),(130.2,1.349),(131.9,1.349),(133.1,1.340),(134.4,1.366),(136.1,1.375),(136.9,1.396),(140.3,1.396),(141.5,1.390),(143.2,1.417),(146.1,1.411),(148.2,1.390),(150.3,1.358),(152.0,1.352),(153.3,1.352),(154.1,1.393),(155.2,1.308),(156.6,1.369),(158.3,1.402),(160.4,1.402),(161.6,1.396),(162.9,1.428),(164.2,1.437),(168.4,1.440),(169.2,1.458),(170.0,1.443),(171.3,1.466),(173.8,1.455),(175.1,1.455),(176.3,1.464),(178.0,1.443),(179.3,1.475),(180.9,1.475),(182.2,1.490),(183.5,1.475),(185.6,1.469),(186.8,1.478),(188.5,1.478),(189.8,1.461),(191.0,1.464),(192.7,1.455),(194.4,1.464),(196.0,1.475),(197.3,1.449),(198.1,1.449),(199.4,1.422),(200.7,1.414),(202.3,1.417),(204.0,1.411),(205.3,1.425),(206.1,1.405),(207.4,1.422),(211.1,1.422),(212.8,1.414),(214.1,1.399),(215.8,1.399),(217.0,1.358),(218.1,1.334),(219.1,1.396),(220.4,1.384),(221.2,1.393),(223.7,1.393),(225.0,1.375),(226.2,1.369),(227.9,1.399),(230.4,1.399),(231.7,1.419),(233.4,1.431),(234.6,1.428),(237.2,1.428),(238.2,1.419),(239.0,1.437),(240.3,1.434),(241.1,1.440),(242.0,1.434),(244.1,1.434),(245.3,1.499),(246.2,1.514),(247.0,1.511),(248.3,1.516),(249.5,1.484),(251.2,1.484),(252.0,1.496),(253.3,1.531),(254.1,1.499),(255.4,1.531),(256.2,1.546),(258.3,1.546),(259.2,1.537),(260.2,1.549),(261.3,1.537),(262.1,1.537),(263.4,1.564),(265.0,1.564),(266.3,1.575),(268.4,1.578),(270.1,1.587),(271.8,1.587),(272.6,1.578),(273.9,1.581),(275.1,1.566),(276.4,1.549),(277.2,1.514),(278.9,1.514),(280.1,1.487),(281.4,1.519),(282.2,1.514),(283.5,1.516),(285.2,1.511),(287.3,1.511),(288.5,1.516),(289.4,1.508),(290.2,1.490),(291.5,1.499),(293.6,1.499),(294.4,1.455),(295.2,1.434),(296.5,1.428),(298.2,1.393),(300.3,1.393),(301.5,1.408),(302.4,1.425),(303.6,1.422),(304.9,1.443),(307.0,1.443),(308.2,1.416),(310.3,1.443),(312.0,1.425),(314.1,1.422),(316.2,1.411),(317.1,1.361),(318.3,1.419),(320.8,1.419),(322.5,1.414),(323.8,1.416),(325.0,1.390),(325.9,1.393),(328.0,1.393),(329.6,1.422),(331.3,1.434),(332.2,1.431),(333.4,1.443),(335.9,1.443),(337.2,1.478),(338.5,1.493),(339.7,1.481),(342.2,1.478),(343.5,1.472),(345.2,1.499),(346.4,1.487),(348.9,1.487),(350.2,1.493),(351.5,1.469),(353.1,1.408),(354.8,1.369),(356.5,1.369),(358.2,1.372),(361.5,1.366),(363.2,1.366),(365,1.349)]

Y2025 = [(0,1.0),(1.7,1.028),(3.8,1.030),(5.0,0.992),(6.2,1.008),(7.4,0.996),(9.1,0.955),(11.5,0.955),(12.4,0.913),(13.6,0.937),(16.0,0.959),(18.3,0.959),(19.5,0.949),(20.7,0.917),(21.9,0.909),(23.1,0.884),(24.3,0.878),(26.1,0.852),(27.2,0.848),(28.4,0.874),(29.3,0.866),(30.2,0.884),(32.0,0.884),(33.2,0.862),(35.0,0.902),(37.3,0.896),(39.1,0.896),(40.6,0.862),(41.8,0.829),(43.0,0.833),(44.2,0.819),(46.3,0.817),(48.0,0.805),(49.2,0.831),(50.4,0.848),(53.1,0.850),(54.3,0.835),(56.6,0.833),(57.8,0.797),(61.1,0.797),(62.0,0.785),(63.2,0.807),(64.1,0.831),(65.3,0.841),(67.3,0.844),(69.1,0.831),(70.6,0.850),(71.8,0.844),(75.4,0.844),(76.2,0.835),(77.4,0.864),(78.9,0.882),(80.1,0.894),(81.9,0.894),(83.1,0.915),(84.9,0.876),(86.0,0.898),(87.2,0.902),(90.8,0.904),(93.0,0.917),(94.2,0.888),(96.2,0.888),(97.1,0.848),(98.3,0.890),(99.5,0.868),(100.1,0.868),(101.0,0.907),(102.8,0.907),(104.6,0.931),(107.2,0.967),(109.9,0.967),(111.1,0.980),(112.3,0.990),(113.5,1.006),(114.4,1.004),(115.2,0.984),(118.2,0.984),(119.4,0.988),(120.3,0.980),(122.4,0.970),(124.1,0.970),(125.3,0.986),(126.2,0.957),(127.1,0.974),(129.2,0.935),(131.3,0.935),(132.2,0.992),(134.5,1.031),(136.0,1.039),(138.4,1.043),(139.3,1.051),(140.2,1.030),(141.1,1.047),(142.3,1.039),(143.2,1.059),(146.1,1.059),(147.6,1.083),(149.1,1.071),(152.4,1.071),(153.2,1.079),(154.1,1.065),(156.2,1.085),(157.4,1.114),(159.2,1.114),(160.4,1.144),(161.9,1.144),(163.0,1.118),(164.2,1.112),(166.0,1.112),(167.2,1.126),(168.1,1.116),(169.3,1.106),(170.2,1.089),(171.1,1.126),(174.0,1.116),(175.2,1.146),(176.1,1.154),(177.9,1.197),(180.0,1.201),(180.9,1.217),(182.0,1.219),(182.5,1.215),(184.3,1.203),(187.2,1.205),(188.4,1.211),(190.2,1.215),(191.1,1.222),(192.3,1.205),(194.1,1.205),(195.3,1.191),(196.4,1.201),(197.6,1.201),(199.1,1.193),(201.2,1.193),(202.1,1.209),(203.3,1.191),(204.5,1.203),(205.4,1.203),(206.2,1.177),(208.3,1.177),(209.2,1.154),(210.1,1.187),(211.0,1.181),(212.2,1.205),(213.4,1.187),(215.1,1.187),(216.3,1.217),(217.2,1.213),(218.4,1.193),(219.3,1.189),(220.2,1.175),(222.0,1.175),(223.8,1.191),(225.2,1.207),(229.1,1.207),(230.0,1.220),(231.2,1.226),(233.0,1.217),(234.4,1.209),(236.2,1.207),(238.3,1.187),(239.2,1.185),(240.1,1.165),(243.1,1.167),(244.2,1.185),(245.1,1.177),(246.0,1.193),(247.2,1.183),(250.2,1.185),(251.4,1.201),(252.6,1.201),(253.7,1.213),(255.5,1.220),(257.3,1.220),(258.5,1.232),(259.7,1.238),(261.2,1.246),(263.8,1.248),(265.0,1.236),(266.8,1.234),(268.0,1.213),(269.2,1.189),(271.0,1.189),(272.2,1.207),(273.4,1.224),(274.4,1.238),(278.1,1.238),(279.7,1.252),(281.2,1.230),(282.8,1.246),(285.3,1.248),(286.2,1.258),(287.1,1.242),(288.4,1.272),(290.9,1.260),(292.7,1.274),(299.6,1.272),(301.4,1.278),(303.0,1.285),(304.2,1.278),(306.7,1.278),(307.3,1.291),(308.6,1.276),(310.1,1.256),(311.1,1.280),(315.1,1.280),(316.4,1.289),(318.2,1.309),(320.4,1.311),(321.3,1.313),(322.9,1.283),(323.8,1.278),(325.1,1.258),(327.5,1.258),(328.5,1.254),(330.3,1.297),(331.3,1.291),(332.2,1.301),(335.0,1.303),(336.3,1.297),(337.5,1.281),(338.1,1.281),(339.4,1.299),(341.2,1.299),(342.5,1.280),(343.4,1.278),(344.0,1.262),(345.0,1.274),(346.5,1.297),(347.8,1.299),(349.3,1.285),(350.9,1.266),(352.1,1.248),(353.7,1.258),(355.8,1.276),(358.0,1.280),(359.9,1.272),(361.8,1.270),(363.3,1.254),(364.2,1.256),(365,1.272)]

TICK_DATES = ["2024-01-31", "2024-02-29", "2024-03-31", "2024-04-30", "2024-05-31", "2024-06-30",
              "2024-07-31", "2024-08-31", "2024-09-30", "2024-10-31", "2024-11-30", "2024-12-31"]
TICK_LABELS = ["Jan-31", "Feb-29", "Mar-31", "Apr-30", "May-31", "Jun-30",
               "Jul-31", "Aug-31", "Sep-30", "Oct-31", "Nov-30", "Dec-31"]
Y_TICKS = [0.50, 0.75, 1.00, 1.25, 1.50, 1.75]
Y_TICK_LABELS = ["0.50", "0.75", "1.00", "1.25", "1.50", "1.75"]
LABELLED_YEARS = ["2017", "2023", "2025", "2019", "2018"]

SERIES = {"2015": Y2015, "2016": Y2016, "2020": Y2020, "2021": Y2021, "2022": Y2022,
          "2024": Y2024, "2019": Y2019, "2018": Y2018, "2023": Y2023, "2017": Y2017, "2025": Y2025}

# ---------------- styles ----------------
STYLE = {
    "2015": ("#e9e8d2", 1.6),
    "2016": ("#e4e3c8", 1.6),
    "2020": ("#75756a", 2.1),
    "2021": ("#5a5a4f", 2.6),
    "2022": ("#45453c", 2.6),
    "2024": ("#1c1c1c", 3.0),
    "2019": ("#8b0000", 6.5),
    "2018": ("#8b0000", 6.8),
    "2023": ("#006400", 5.6),
    "2017": ("#006400", 7.4),
    "2025": ("#000000", 10.0),
}

BASE = pd.Timestamp("2024-01-01")
FONT = "DejaVu Sans"
BG = "#d5e4eb"


def to_xy(series):
    days, vals = zip(*series)
    return [BASE + pd.Timedelta(days=d) for d in days], list(vals)


fig = go.Figure()
for year, series in SERIES.items():
    x, y = to_xy(series)
    color, width = STYLE[year]
    fig.add_trace(go.Scatter(x=x, y=y, mode="lines", name=year,
                             line=dict(color=color, width=width),
                             showlegend=False, hoverinfo="skip"))

annotations = []
label_x = BASE + pd.Timedelta(days=354.6)
for year in LABELLED_YEARS:
    last_val = SERIES[year][-1][1]
    annotations.append(dict(x=label_x, y=last_val, xref="x", yref="y", text=year,
                            showarrow=False, xanchor="center", yanchor="middle",
                            font=dict(family=FONT, size=40, color="rgba(70,70,70,0.8)"),
                            bgcolor="rgba(255,255,255,0.55)", bordercolor="rgba(90,90,90,0.7)",
                            borderwidth=2, borderpad=3, width=128, height=46))

# watermark
annotations.append(dict(x=BASE, y=0.509, xref="x", yref="y", text="<b>@StockViz</b>",
                        showarrow=False, xanchor="left", yanchor="middle",
                        font=dict(family=FONT, size=70, color="rgba(255,255,255,0.82)")))
# title / subtitle
annotations.append(dict(x=0, y=1.0821, xref="paper", yref="paper",
                        text="<b>Investment Company(CAP_WT)</b>", showarrow=False,
                        xanchor="left", yanchor="middle",
                        font=dict(family=FONT, size=68, color="black")))
annotations.append(dict(x=0, y=1.0327, xref="paper", yref="paper",
                        text="2015:2026-01-12", showarrow=False,
                        xanchor="left", yanchor="middle",
                        font=dict(family=FONT, size=42, color="black")))
# y-axis title
annotations.append(dict(x=-0.0475, y=0.5, xref="paper", yref="paper",
                        text="growth of Rs. 1", showarrow=False, textangle=-90,
                        xanchor="center", yanchor="middle",
                        font=dict(family=FONT, size=43, color="black")))

fig.update_layout(
    width=3600, height=1800,
    margin=dict(l=227, r=43, t=182, b=303, pad=0),
    paper_bgcolor=BG, plot_bgcolor=BG,
    showlegend=False,
    annotations=annotations,
    font=dict(family=FONT, color="black"),
)
fig.update_xaxes(
    type="date", range=[BASE, BASE + pd.Timedelta(days=365)],
    tickvals=TICK_DATES, ticktext=TICK_LABELS, tickangle=-90,
    tickfont=dict(family=FONT, size=44, color="black"),
    showgrid=False, zeroline=False,
    showline=True, linecolor="black", linewidth=4,
    ticks="inside", ticklen=20, tickwidth=4, tickcolor="black",
    ticklabelstandoff=26,
)
fig.update_yaxes(
    range=[0.4218, 1.7705],
    tickvals=Y_TICKS, ticktext=Y_TICK_LABELS,
    tickfont=dict(family=FONT, size=43, color="black"),
    showgrid=True, gridcolor="white", gridwidth=7,
    zeroline=False, showline=False, ticks="",
    ticklabelstandoff=36,
)

fig.write_html("out.html", post_script="document.body.style.margin='0';")
